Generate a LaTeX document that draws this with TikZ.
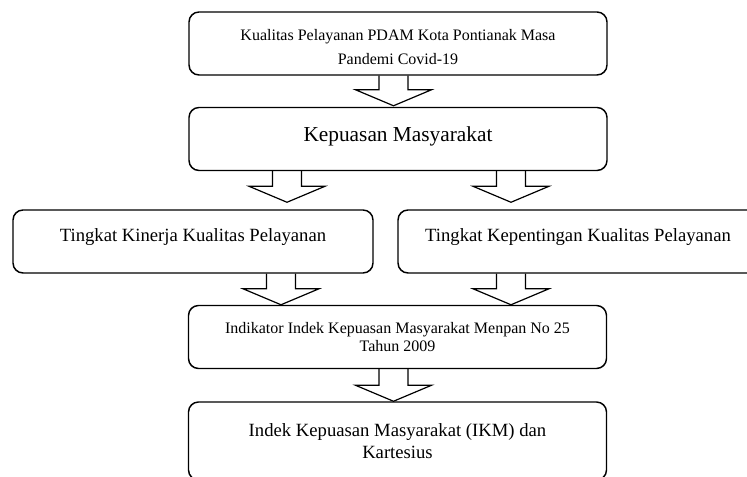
\documentclass[tikz,border=0pt]{standalone}
\usepackage{fontspec}
\setmainfont{Liberation Serif}
\usepackage{tikz}
\usetikzlibrary{positioning,calc}

\begin{document}
\begin{tikzpicture}[
  x=0.75pt, y=-0.75pt,
  box/.style={draw, line width=1.1pt, rounded corners=7.5pt, align=center, inner sep=2pt},
  widebox/.style={box, minimum width=313.5pt, minimum height=47.25pt},
  halfbox/.style={box, minimum width=270pt, minimum height=47.25pt, text depth=9pt, font=\fontsize{14}{16.5}\selectfont},
  blockarr/.style={draw, line width=0.9pt, line join=miter}
]
\useasboundingbox (0,0) rectangle (747,477);
\clip (0,0) rectangle (747,477);

% Top boxes
\node[widebox, font=\fontsize{12}{18}\selectfont] (kualitas) at (398,43.5) {\rule{0pt}{14pt}Kualitas Pelayanan PDAM Kota Pontianak Masa\\Pandemi Covid-19};
\node[widebox, text depth=8pt, font=\fontsize{16}{19}\selectfont] (kepuasan) at (398,139) {Kepuasan Masyarakat};

% Middle boxes
\node[halfbox] (kinerja) at (193,241.5) {Tingkat Kinerja Kualitas Pelayanan};
\node[halfbox] (kepentingan) at (578,241.5) {Tingkat Kepentingan Kualitas Pelayanan};

% Bottom boxes
\node[widebox, font=\fontsize{12}{13.5}\selectfont] (indikator) at (397.5,337) {Indikator Indek Kepuasan Masyarakat Menpan No 25\\Tahun 2009};
\node[widebox, minimum height=58.5pt, font=\fontsize{14}{16.5}\selectfont] (ikm) at (397.5,441) {Indek Kepuasan Masyarakat (IKM) dan\\Kartesius};

% Block arrows
\foreach \x/\a/\b/\g in {393.5/kualitas/kepuasan/1, 287/kepuasan/kinerja/7, 511/kepuasan/kepentingan/7,
                         281/kinerja/indikator/0, 511/kepentingan/indikator/0, 393.5/indikator/ikm/0}
  \draw[blockarr] ($(\x,0 |- \a.south)+(-14.5,0)$) -- ($(\x,0 |- \b.north)+(-14.5,-\g-16)$)
    -- ($(\x,0 |- \b.north)+(-38,-\g-16)$) -- ($(\x,0 |- \b.north)+(0,-\g)$)
    -- ($(\x,0 |- \b.north)+(38,-\g-16)$) -- ($(\x,0 |- \b.north)+(14.5,-\g-16)$)
    -- ($(\x,0 |- \a.south)+(14.5,0)$);

\end{tikzpicture}
\end{document}
